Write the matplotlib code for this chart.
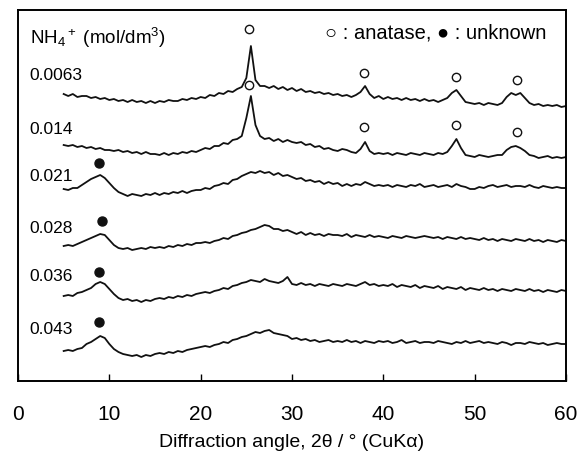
import numpy as np
import matplotlib
matplotlib.use('Agg')
import matplotlib.pyplot as plt

plt.rcParams['font.family'] = ['Liberation Sans', 'DejaVu Sans']
plt.rcParams['mathtext.fontset'] = 'custom'
plt.rcParams['mathtext.rm'] = 'Liberation Sans'
plt.rcParams['mathtext.it'] = 'Liberation Sans:italic'

# scan grid, 2theta in degrees (0.5 deg steps from 5 to 60)
two_theta = np.arange(5.0, 60.01, 0.5)

# NH4+ concentration of each sample (mol/dm3), top to bottom
conc_labels = ['0.0063', '0.014', '0.021', '0.028', '0.036', '0.043']
# vertical shift of each pattern (arb. units)
offsets = [275, 223, 185, 132, 80, 25]

# intensities (arb. units, relative to each offset)
i_0063 = [12, 10, 12, 9, 10, 10, 8, 9, 7, 8,
          6, 7, 5, 6, 4, 6, 4, 5, 3, 5,
          3, 5, 4, 6, 5, 5, 7, 6, 8, 7,
          9, 8, 11, 10, 13, 12, 15, 14, 17, 19,
          28, 60, 26, 20, 20, 18, 20, 17, 19, 16,
          18, 15, 17, 14, 15, 13, 14, 12, 13, 11,
          12, 10, 11, 9, 11, 14, 20, 12, 8, 10,
          7, 9, 7, 8, 6, 8, 6, 7, 5, 7,
          5, 6, 4, 6, 8, 13, 16, 10, 4, 3,
          2, 3, 1, 3, 2, 1, 3, 9, 13, 11,
          13, 8, 3, 1, 2, 0, 1, 0, 1, -1, 0]
i_014 = [13, 12, 13, 11, 12, 10, 11, 9, 10, 8,
         8, 7, 8, 6, 7, 5, 6, 4, 6, 4,
         4, 3, 5, 3, 5, 4, 6, 5, 7, 6,
         8, 10, 9, 12, 12, 15, 14, 18, 19, 22,
         40, 62, 33, 22, 19, 20, 17, 19, 16, 18,
         16, 15, 16, 13, 14, 11, 12, 9, 10, 8,
         7, 9, 8, 6, 5, 9, 16, 7, 4, 5,
         4, 5, 3, 5, 4, 3, 5, 4, 3, 5,
         4, 3, 5, 4, 6, 12, 19, 10, 3, 2,
         1, 3, 2, 1, 2, 3, 3, 8, 11, 12,
         10, 7, 3, 2, 0, 1, 2, 0, 1, 0, 1]
i_021 = [7, 6, 8, 8, 11, 14, 17, 19, 21, 18,
         13, 8, 4, 2, 0, 2, 1, 0, 2, 1,
         3, 1, 3, 2, 4, 3, 5, 3, 5, 6,
         6, 8, 7, 10, 11, 13, 12, 16, 17, 20,
         22, 24, 23, 25, 23, 24, 21, 23, 20, 21,
         19, 17, 18, 15, 16, 14, 15, 12, 14, 12,
         13, 10, 12, 10, 12, 11, 14, 12, 10, 11,
         10, 11, 9, 11, 10, 9, 11, 10, 12, 9,
         10, 11, 9, 10, 11, 9, 12, 10, 9, 7,
         7, 9, 8, 10, 11, 9, 10, 11, 9, 10,
         10, 9, 11, 9, 8, 10, 9, 8, 9, 8, 8]
i_028 = [3, 4, 3, 5, 7, 9, 11, 13, 15, 14,
         9, 4, 1, 0, 1, -1, 0, 1, 0, 2,
         1, 2, 1, 3, 2, 4, 3, 5, 4, 6,
         6, 7, 6, 8, 9, 11, 10, 13, 14, 16,
         17, 19, 20, 22, 24, 23, 20, 20, 18, 19,
         17, 15, 17, 14, 16, 14, 15, 13, 15, 14,
         14, 13, 15, 12, 14, 13, 12, 14, 12, 13,
         12, 11, 13, 12, 11, 13, 12, 11, 12, 13,
         12, 11, 12, 10, 12, 11, 10, 12, 10, 11,
         10, 9, 11, 9, 10, 8, 10, 9, 8, 10,
         9, 8, 10, 8, 9, 7, 9, 8, 7, 9, 8]
i_036 = [5, 6, 5, 8, 9, 11, 13, 17, 19, 17,
         12, 7, 3, 1, 2, 0, 1, -1, 1, 0,
         2, 3, 2, 4, 3, 5, 4, 6, 5, 7,
         8, 9, 8, 10, 11, 13, 12, 15, 16, 18,
         19, 21, 20, 19, 22, 20, 19, 18, 20, 24,
         17, 16, 18, 16, 17, 15, 17, 16, 15, 17,
         16, 15, 17, 16, 15, 17, 19, 16, 17, 15,
         16, 15, 17, 14, 16, 15, 14, 16, 13, 15,
         14, 13, 15, 12, 14, 13, 12, 14, 11, 13,
         12, 11, 13, 11, 12, 10, 12, 11, 10, 12,
         11, 10, 12, 10, 11, 9, 11, 10, 9, 11, 10]
i_043 = [5, 6, 5, 7, 8, 12, 14, 17, 20, 18,
         12, 7, 4, 2, 1, 0, 1, -1, 1, 0,
         2, 3, 2, 4, 3, 5, 4, 6, 7, 8,
         9, 10, 9, 11, 12, 14, 13, 16, 17, 19,
         20, 22, 24, 23, 25, 26, 23, 22, 21, 20,
         17, 18, 16, 17, 15, 16, 14, 15, 16, 14,
         15, 14, 16, 14, 15, 13, 15, 14, 13, 15,
         14, 15, 13, 14, 16, 13, 14, 15, 13, 14,
         14, 13, 15, 14, 13, 12, 14, 13, 15, 13,
         14, 15, 13, 14, 13, 12, 14, 13, 11, 13,
         13, 12, 14, 13, 12, 13, 11, 12, 13, 12, 12]
patterns = [i_0063, i_014, i_021, i_028, i_036, i_043]

# peak markers (2theta, height in the same shifted units)
anatase_2theta = [25.3, 37.9, 48.0, 54.6]
anatase_h_0063 = [352, 308, 304, 301]
anatase_h_014 = [296, 254, 256, 249]
unknown_2theta = [8.9, 9.2, 8.9, 8.9]
unknown_h = [218, 160, 109, 59]

label_y = [307, 252, 205, 153, 105, 52]

fig = plt.figure(figsize=(5.77, 4.56), dpi=100)
ax = fig.add_axes([18 / 577, 74 / 456, 548 / 577, 371 / 456])

for off, inten in zip(offsets, patterns):
    ax.plot(two_theta, off + np.array(inten), color='#111111', lw=1.3)

ax.plot(anatase_2theta, anatase_h_0063, 'o', ms=6, mfc='white', mec='#111111', mew=1)
ax.plot(anatase_2theta, anatase_h_014, 'o', ms=6, mfc='white', mec='#111111', mew=1)
ax.plot(unknown_2theta, unknown_h, 'o', ms=6.5, color='#111111')

for lab, yy in zip(conc_labels, label_y):
    ax.text(1.3, yy, lab, fontsize=12.5, ha='left', va='center')
ax.text(1.3, 344, r'NH$_4$$^+$ (mol/dm$^3$)', fontsize=13.5, ha='left', va='center')
ax.text(57.9, 349, '○ : anatase, ● : unknown', fontsize=14.5, ha='right', va='center')

ax.set_xlim(0, 60)
ax.set_ylim(0, 371)
ax.set_xticks([0, 10, 20, 30, 40, 50, 60])
ax.set_yticks([])
ax.tick_params(axis='x', direction='in', length=5, width=1, pad=16.5, labelsize=15)
for s in ax.spines.values():
    s.set_linewidth(1.4)
ax.set_xlabel('Diffraction angle, 2θ / ° (CuKα)', fontsize=14, labelpad=7)

fig.savefig('out.png', dpi=100)
